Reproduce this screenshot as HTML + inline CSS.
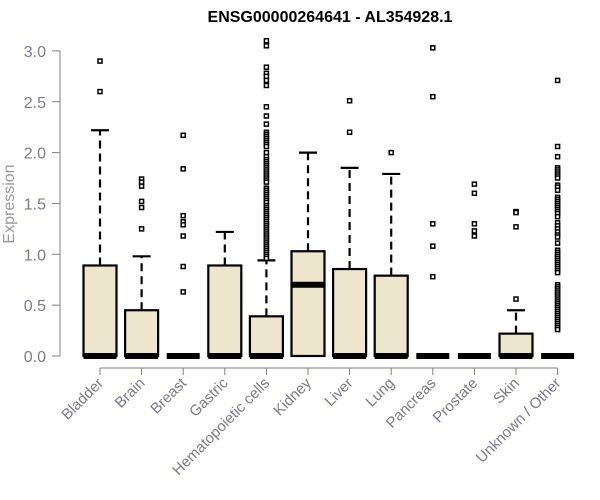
<!DOCTYPE html>
<html><head><meta charset="utf-8"><style>
body{margin:0;background:#fff;}
svg{display:block;font-family:"Liberation Sans",Arial,sans-serif;}
</style></head><body>
<svg id="chart" width="600" height="500"></svg>
<script>
const categories=["Bladder","Brain","Breast","Gastric","Hematopoietic cells","Kidney","Liver","Lung","Pancreas","Prostate","Skin","Unknown / Other"];
const q1s=[0,0,0,0,0,0,0,0,0,0,0,0];
const medians=[0,0,0,0,0,0.70,0,0,0,0,0,0];
const q3s=[0.89,0.45,0,0.89,0.39,1.03,0.855,0.79,0,0,0.22,0];
const whiskerLows=[0,0,0,0,0,0,0,0,0,0,0,0];
const whiskerHighs=[2.22,0.98,0,1.22,0.94,2.0,1.85,1.79,0,0,0.45,0];
const outliers=[
[2.9,2.6],
[1.74,1.71,1.67,1.52,1.46,1.25],
[2.17,1.84,1.38,1.32,1.29,1.18,0.88,0.63],
[],
[3.10,3.05,2.84,2.78,2.75,2.71,2.66,2.45,2.36,2.28,2.2,2.18,2.16,2.14,2.12,2.1,2.08,2.06,2.0,1.96,1.93,1.91,1.89,1.87,1.85,1.83,1.81,1.79,1.77,1.75,1.73,1.71,1.65,1.63,1.61,1.59,1.57,1.55,1.53,1.51,1.48,1.46,1.44,1.42,1.40,1.38,1.36,1.34,1.32,1.30,1.28,1.26,1.24,1.22,1.20,1.18,1.16,1.14,1.12,1.10,1.08,1.06,1.04,1.02,1.0,0.98,0.96],
[],
[2.51,2.2],
[2.0],
[3.03,2.55,1.30,1.08,0.78],
[1.69,1.60,1.30,1.23,1.18],
[1.42,1.41,1.27,0.56],
[2.71,2.06,1.96,1.85,1.83,1.81,1.79,1.77,1.75,1.68,1.66,1.63,1.56,1.54,1.52,1.50,1.48,1.46,1.44,1.42,1.40,1.37,1.31,1.28,1.25,1.22,1.19,1.17,1.11,1.04,1.02,1.0,0.98,0.96,0.94,0.92,0.90,0.88,0.86,0.84,0.82,0.70,0.68,0.66,0.64,0.62,0.60,0.58,0.56,0.54,0.52,0.50,0.48,0.46,0.44,0.42,0.40,0.38,0.36,0.34,0.32,0.30,0.28,0.26]
];
const yTicks=[0,0.5,1,1.5,2,2.5,3];
const yTickLabels=["0.0","0.5","1.0","1.5","2.0","2.5","3.0"];

const NS="http://www.w3.org/2000/svg";
const svg=document.getElementById("chart");
function y(v){return 356-v*101.7;}
function x(i){return 100+i*41.6;}
function mk(tag,attrs,parent){const e=document.createElementNS(NS,tag);for(const k in attrs)e.setAttribute(k,attrs[k]);(parent||svg).appendChild(e);return e;}
const gray="#808080", lab="#7a7a8a";

let t=mk("text",{x:330,y:22,"text-anchor":"middle","font-size":"16","font-weight":"bold",fill:"#000"});
t.textContent="ENSG00000264641 - AL354928.1";



let ax=mk("line",{x1:60,x2:60,y1:y(3),y2:y(0),stroke:gray,"stroke-width":1});


yTicks.forEach((v,i)=>{
  mk("line",{x1:52,x2:60,y1:y(v),y2:y(v),stroke:gray});
  const l=mk("text",{x:46,y:y(v)+6,"text-anchor":"end","font-size":"16",fill:lab});
  l.textContent=yTickLabels[i];
  
  
});
let yt=mk("text",{x:0,y:0,transform:"translate(14,204) rotate(-90)","text-anchor":"middle","font-size":"16",fill:"#999"});
yt.textContent="Expression";



let xa=mk("line",{x1:x(0),x2:x(11),y1:368,y2:368,stroke:gray});



categories.forEach((c,i)=>{
  const cx=x(i);
  mk("line",{x1:cx,x2:cx,y1:368,y2:375,stroke:gray});
  const l=mk("text",{x:0,y:0,transform:`translate(${cx+4},384) rotate(-45)`,"text-anchor":"end","font-size":"15",fill:lab});
  l.textContent=c;
  
  
  const g=mk("g",{});
  
  
  if(whiskerHighs[i]>q3s[i]){
    mk("line",{x1:cx,x2:cx,y1:y(q3s[i]),y2:y(whiskerHighs[i]),stroke:"#000","stroke-width":2.2,"stroke-dasharray":"8,5"},g);
    mk("line",{x1:cx-9,x2:cx+9,y1:y(whiskerHighs[i]),y2:y(whiskerHighs[i]),stroke:"#000","stroke-width":2.2},g);
  }
  if(q3s[i]>q1s[i]){
    mk("rect",{x:cx-16.5,y:y(q3s[i]),width:33,height:y(q1s[i])-y(q3s[i]),fill:"#ede6cc",stroke:"#000","stroke-width":2.2},g);
  }
  mk("line",{x1:cx-16.5,x2:cx+16.5,y1:y(medians[i]),y2:y(medians[i]),stroke:"#000","stroke-width":6},g);
  outliers[i].forEach(v=>{
    const p=mk("rect",{x:cx-2,y:y(v)-2,width:4,height:4,fill:"#fff",stroke:"#000","stroke-width":1.5},g);
    
    
  });
});
</script>
</body></html>
